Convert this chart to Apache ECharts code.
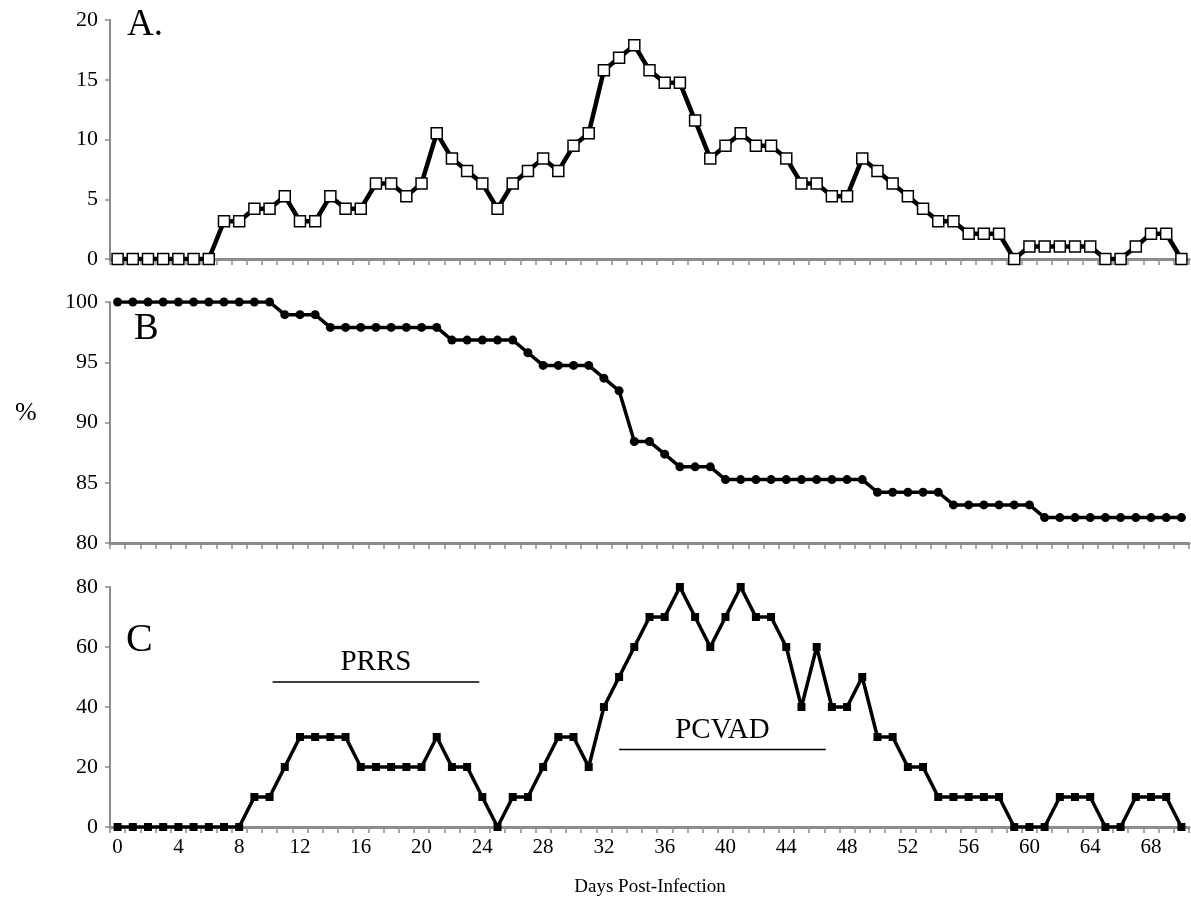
<!DOCTYPE html>
<html>
<head>
<meta charset="utf-8">
<script src="https://cdn.jsdelivr.net/npm/echarts@6/dist/echarts.min.js"></script>
<style>
html,body{margin:0;padding:0;background:#fff;}
#chart{width:1191px;height:903px;}
</style>
</head>
<body>
<div id="chart"></div>
<script>
// Days post-infection (categories)
var days = ['0','1','2','3','4','5','6','7','8','9','10','11','12','13','14','15','16','17','18','19',
  '20','21','22','23','24','25','26','27','28','29','30','31','32','33','34','35','36','37','38','39',
  '40','41','42','43','44','45','46','47','48','49','50','51','52','53','54','55','56','57','58','59',
  '60','61','62','63','64','65','66','67','68','69','70'];

// Panel A (%)
var panelA = [0,0,0,0,0,0,0,3.16,3.16,4.21,4.21,5.26,3.16,3.16,5.26,4.21,4.21,6.32,6.32,5.26,
  6.32,10.53,8.42,7.37,6.32,4.21,6.32,7.37,8.42,7.37,9.47,10.53,15.79,16.84,17.89,15.79,14.74,14.74,11.58,8.42,
  9.47,10.53,9.47,9.47,8.42,6.32,6.32,5.26,5.26,8.42,7.37,6.32,5.26,4.21,3.16,3.16,2.11,2.11,2.11,0,
  1.05,1.05,1.05,1.05,1.05,0,0,1.05,2.11,2.11,0];

// Panel B (%)
var panelB = [100,100,100,100,100,100,100,100,100,100,100,98.95,98.95,98.95,97.89,97.89,97.89,97.89,97.89,97.89,
  97.89,97.89,96.84,96.84,96.84,96.84,96.84,95.79,94.74,94.74,94.74,94.74,93.68,92.63,88.42,88.42,87.37,86.32,86.32,86.32,
  85.26,85.26,85.26,85.26,85.26,85.26,85.26,85.26,85.26,85.26,84.21,84.21,84.21,84.21,84.21,83.16,83.16,83.16,83.16,83.16,
  83.16,82.11,82.11,82.11,82.11,82.11,82.11,82.11,82.11,82.11,82.11];

// Panel C (%)
var panelC = [0,0,0,0,0,0,0,0,0,10,10,20,30,30,30,30,20,20,20,20,
  20,30,20,20,10,0,10,10,20,30,30,20,40,50,60,70,70,80,70,60,
  70,80,70,70,60,40,60,40,40,50,30,30,20,20,10,10,10,10,10,0,
  0,0,10,10,10,0,0,10,10,10,0];

// Annotation bars in panel C (day range, level) and their labels
var prrsSpan = [10.2, 23.8], prrsLevel = 48.3, prrsText = 'PRRS', prrsTextPos = [17, 55];
var pcvadSpan = [33, 46.6], pcvadLevel = 25.8, pcvadText = 'PCVAD', pcvadTextPos = [39.8, 32.3];

var serif = '"Liberation Serif", "DejaVu Serif", serif';
var gray = '#8c8c8c';

function xCat(gi, showLabels) {
  return {
    type: 'category', gridIndex: gi, data: days, boundaryGap: true,
    axisLine: {show: true, onZero: false, lineStyle: {color: gray, width: 3}},
    axisTick: {show: true, interval: 0, length: 6, lineStyle: {color: gray, width: 1.5}},
    axisLabel: {show: showLabels, interval: 3, color: '#000', fontFamily: serif, fontSize: 21, margin: 10},
    splitLine: {show: false}
  };
}
function yVal(gi, min, max, interval) {
  return {
    type: 'value', gridIndex: gi, min: min, max: max, interval: interval,
    axisLine: {show: true, onZero: false, lineStyle: {color: gray, width: 2}},
    axisTick: {show: true, length: 5, lineStyle: {color: gray, width: 1.5}},
    axisLabel: {color: '#000', fontFamily: serif, fontSize: 22, margin: 12},
    splitLine: {show: false}
  };
}

var option = {
  backgroundColor: '#fff',
  animation: false,
  grid: [
    {left: 110, right: 2, top: 20, height: 239},
    {left: 110, right: 2, top: 302, height: 241},
    {left: 110, right: 2, top: 587, height: 240}
  ],
  title: [
    {text: 'A.', left: 122, top: 2, textStyle: {fontFamily: serif, fontSize: 37, fontWeight: 'normal', color: '#000'}},
    {text: 'B', left: 129, top: 306, textStyle: {fontFamily: serif, fontSize: 37, fontWeight: 'normal', color: '#000'}},
    {text: 'C', left: 121, top: 615, textStyle: {fontFamily: serif, fontSize: 40, fontWeight: 'normal', color: '#000'}},
    {text: '%', left: 10, top: 395, textStyle: {fontFamily: serif, fontSize: 26, fontWeight: 'normal', color: '#000'}},
    {text: 'Days Post-Infection', left: 645, textAlign: 'center', top: 873, textStyle: {fontFamily: serif, fontSize: 19, fontWeight: 'normal', color: '#000'}}
  ],
  xAxis: [
    xCat(0, false), xCat(1, false), xCat(2, true),
    {type: 'value', gridIndex: 2, min: -0.5, max: 70.5, show: false, axisLine: {onZero: false}}
  ],
  yAxis: [
    yVal(0, 0, 20, 5), yVal(1, 80, 100, 5), yVal(2, 0, 80, 20)
  ],
  series: [
    {
      type: 'line', xAxisIndex: 0, yAxisIndex: 0, data: panelA,
      symbol: 'rect', symbolSize: 11, showAllSymbol: true,
      lineStyle: {color: '#000', width: 4.5},
      itemStyle: {color: '#fff', borderColor: '#000', borderWidth: 1.5}
    },
    {
      type: 'line', xAxisIndex: 1, yAxisIndex: 1, data: panelB,
      symbol: 'circle', symbolSize: 9, showAllSymbol: true,
      lineStyle: {color: '#000', width: 3.5},
      itemStyle: {color: '#000'}
    },
    {
      type: 'line', xAxisIndex: 2, yAxisIndex: 2, data: panelC,
      symbol: 'rect', symbolSize: 8, showAllSymbol: true,
      lineStyle: {color: '#000', width: 3.5},
      itemStyle: {color: '#000'}
    },
    {
      type: 'line', xAxisIndex: 3, yAxisIndex: 2, silent: true, symbol: 'none',
      data: [[prrsSpan[0], prrsLevel], [prrsSpan[1], prrsLevel]],
      lineStyle: {color: '#000', width: 1.5}
    },
    {
      type: 'line', xAxisIndex: 3, yAxisIndex: 2, silent: true, symbol: 'none',
      data: [[pcvadSpan[0], pcvadLevel], [pcvadSpan[1], pcvadLevel]],
      lineStyle: {color: '#000', width: 1.5}
    },
    {
      type: 'scatter', xAxisIndex: 3, yAxisIndex: 2, silent: true, symbolSize: 0,
      itemStyle: {opacity: 1},
      data: [
        {value: prrsTextPos, name: prrsText},
        {value: pcvadTextPos, name: pcvadText}
      ],
      label: {show: true, position: 'inside', formatter: '{b}', color: '#000', textBorderWidth: 0,
        fontFamily: serif, fontSize: 29}
    }
  ]
};

var chart = echarts.init(document.getElementById('chart'), null, {renderer: 'canvas'});
chart.setOption(option);
</script>
</body>
</html>
